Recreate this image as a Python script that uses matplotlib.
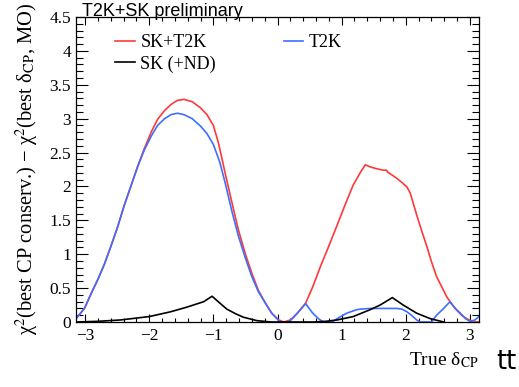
import matplotlib
matplotlib.use('Agg')
import matplotlib.pyplot as plt
from matplotlib.ticker import MultipleLocator

# red: SK+T2K
delta_red = [-3.14, -3.01, -2.91, -2.80, -2.70, -2.60, -2.49, -2.39, -2.28, -2.18,
             -2.08, -1.97, -1.87, -1.76, -1.66, -1.56, -1.46, -1.33, -1.20, -1.10,
             -1.00, -0.92, -0.81, -0.71, -0.61, -0.50, -0.40, -0.30, -0.19, -0.09,
             0.02, 0.10, 0.20, 0.30, 0.44, 0.55, 0.67, 0.80, 0.93, 1.05,
             1.18, 1.30, 1.37, 1.44, 1.55, 1.65, 1.70, 1.72, 1.80, 1.86,
             1.95, 2.02, 2.07, 2.17, 2.25, 2.33, 2.40, 2.48, 2.56, 2.64,
             2.72, 2.79, 2.87, 2.95, 3.05, 3.14]
chi2_red = [0.05, 0.20, 0.41, 0.63, 0.85, 1.11, 1.41, 1.72, 2.02, 2.30,
            2.55, 2.80, 2.99, 3.12, 3.21, 3.27, 3.285, 3.25, 3.16, 3.06,
            2.90, 2.64, 2.17, 1.76, 1.36, 1.00, 0.72, 0.47, 0.28, 0.13,
            0.03, 0.0, 0.03, 0.12, 0.28, 0.52, 0.82, 1.12, 1.43, 1.72,
            2.02, 2.22, 2.32, 2.29, 2.26, 2.24, 2.24, 2.21, 2.16, 2.12,
            2.05, 1.99, 1.90, 1.58, 1.34, 1.11, 0.89, 0.67, 0.52, 0.37,
            0.26, 0.18, 0.10, 0.05, 0.0, 0.0]

# blue: T2K
delta_blue = [-3.14, -3.01, -2.91, -2.80, -2.70, -2.60, -2.49, -2.39, -2.28, -2.18,
              -2.08, -1.97, -1.87, -1.76, -1.66, -1.56, -1.46, -1.33, -1.20, -1.10,
              -1.00, -0.90, -0.81, -0.71, -0.61, -0.50, -0.40, -0.30, -0.19, -0.09,
              0.02, 0.05, 0.18, 0.30, 0.44, 0.55, 0.65, 0.72, 0.85, 0.93,
              1.08, 1.23, 1.29, 1.45, 1.60, 1.86, 1.94, 2.02, 2.10, 2.17,
              2.22, 2.40, 2.48, 2.58, 2.69, 2.77, 2.85, 2.93, 3.00, 3.08, 3.14]
chi2_blue = [0.05, 0.20, 0.41, 0.63, 0.85, 1.11, 1.41, 1.72, 2.02, 2.29,
             2.53, 2.74, 2.90, 3.00, 3.06, 3.08, 3.06, 3.00, 2.89, 2.78,
             2.62, 2.36, 2.03, 1.63, 1.27, 0.94, 0.67, 0.45, 0.28, 0.13,
             0.02, 0.0, 0.0, 0.12, 0.27, 0.13, 0.04, 0.0, 0.0, 0.05,
             0.13, 0.18, 0.19, 0.20, 0.20, 0.20, 0.19, 0.15, 0.09, 0.03,
             0.0, 0.0, 0.10, 0.19, 0.30, 0.20, 0.13, 0.05, 0.01, 0.03, 0.08]

# black: SK (+ND)
delta_sk = [-3.14, -2.80, -2.45, -2.00, -1.67, -1.41, -1.15, -1.02, -0.90, -0.79,
            -0.65, -0.53, -0.32, -0.10, 0.56, 0.75, 0.93, 1.18, 1.44, 1.60,
            1.79, 1.96, 2.17, 2.38, 2.59]
chi2_sk = [0.0, 0.01, 0.03, 0.08, 0.15, 0.22, 0.30, 0.38, 0.28, 0.19,
           0.12, 0.07, 0.02, 0.0, 0.0, 0.01, 0.03, 0.08, 0.18, 0.25,
           0.36, 0.25, 0.13, 0.05, 0.0]

xtick_labels = ['\u22123', '\u22122', '\u22121', '0', '1', '2', '3']
ytick_labels = ['0', '0.5', '1', '1.5', '2', '2.5', '3', '3.5', '4', '4.5']

plt.rcParams['font.family'] = 'Liberation Serif'
plt.rcParams['mathtext.fontset'] = 'stix'

fig = plt.figure(figsize=(5.19, 3.87), dpi=100)
ax = fig.add_axes([76/519, 1-322/387, 403/519, 305/387])

ax.plot(delta_red, chi2_red, color='#ff3838', lw=1.2, label='SK+T2K')
ax.plot(delta_sk, chi2_sk, color='black', lw=1.2, label='SK (+ND)', zorder=3)
ax.plot(delta_blue, chi2_blue, color='#3d6eff', lw=1.2, label='T2K')

ax.set_xlim(-3.1416, 3.1416)
ax.set_ylim(0, 4.5)
ax.xaxis.set_minor_locator(MultipleLocator(0.2))
ax.yaxis.set_minor_locator(MultipleLocator(0.1))
ax.tick_params(axis='both', which='both', direction='in', top=True, right=True,
               labelsize=12.5, width=0.8)
ax.tick_params(axis='x', which='major', length=6)
ax.tick_params(axis='x', which='minor', length=3.2)
ax.tick_params(axis='y', which='major', length=8.6)
ax.tick_params(axis='y', which='minor', length=4.8)
ax.tick_params(axis='x', pad=4)
for s in ax.spines.values():
    s.set_linewidth(0.9)

ax.set_xticks([-3, -2, -1, 0, 1, 2, 3])
ax.set_xticklabels(xtick_labels)
ax.set_yticks([0, 0.5, 1, 1.5, 2, 2.5, 3, 3.5, 4, 4.5])
ax.set_yticklabels(ytick_labels)

ax.set_xlabel('True \u03b4$_{\\rm CP}$', loc='right', fontsize=14)
ax.xaxis.set_label_coords(1.0, -0.093)
ax.set_ylabel('\u03c7$^{2}$(best CP conserv.) \u2212 \u03c7$^{2}$(best \u03b4$_{\\rm CP}$, MO)',
              loc='top', fontsize=14.8)
ax.yaxis.set_label_coords(-0.089, 1.047)

ax.legend(loc='upper left', bbox_to_anchor=(115/519, 1-34/387),
          bbox_transform=fig.transFigure, ncol=2, frameon=False, fontsize=13,
          handlelength=1.1, handletextpad=0.3, columnspacing=3.75,
          labelspacing=0.25, borderpad=0, borderaxespad=0)

fig.text(82/519, 1-15.5/387, 'T2K+SK preliminary', family='Liberation Sans',
         fontsize=13, va='baseline', ha='left')
fig.text(496/519, 1-369/387, 'tt', family='DejaVu Sans', fontsize=18.5,
         va='baseline', ha='left')

fig.savefig('out.png', dpi=100)
